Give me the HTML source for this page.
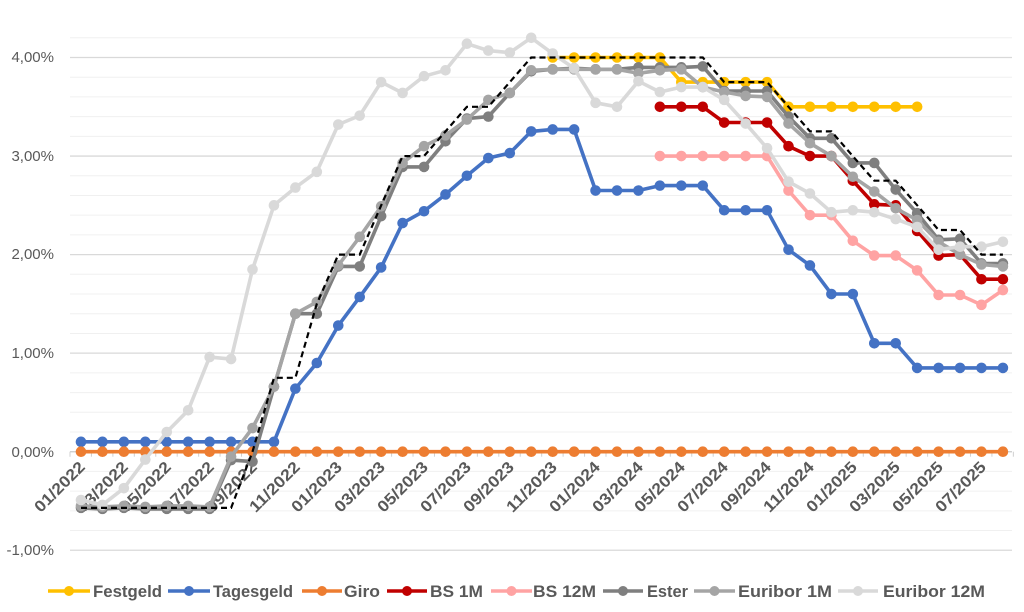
<!DOCTYPE html>
<html><head><meta charset="utf-8"><style>
html,body{margin:0;padding:0;background:#fff;width:1024px;height:612px;overflow:hidden}
svg{display:block}
.yl{font-family:"Liberation Sans",sans-serif;font-size:15px;fill:#595959}
.xl{font-family:"Liberation Sans",sans-serif;font-size:16px;font-weight:bold;fill:#595959}
.lg{font-family:"Liberation Sans",sans-serif;font-size:17px;font-weight:bold;fill:#595959}
</style></head><body>
<svg id="s" width="1024" height="612" xmlns="http://www.w3.org/2000/svg">
<g id="grid"></g>
<g class="yl" text-anchor="end">
<text x="54" y="62">4,00%</text>
<text x="54" y="161">3,00%</text>
<text x="54" y="259">2,00%</text>
<text x="54" y="358">1,00%</text>
<text x="54" y="457">0,00%</text>
<text x="54" y="555">-1,00%</text>
</g>
<g class="xl" text-anchor="end" id="xl">
<text transform="translate(86,468) rotate(-45)" textLength="64" lengthAdjust="spacingAndGlyphs">01/2022</text>
<text transform="translate(129,468) rotate(-45)" textLength="64" lengthAdjust="spacingAndGlyphs">03/2022</text>
<text transform="translate(172,468) rotate(-45)" textLength="64" lengthAdjust="spacingAndGlyphs">05/2022</text>
<text transform="translate(215,468) rotate(-45)" textLength="64" lengthAdjust="spacingAndGlyphs">07/2022</text>
<text transform="translate(258,468) rotate(-45)" textLength="64" lengthAdjust="spacingAndGlyphs">09/2022</text>
<text transform="translate(301,468) rotate(-45)" textLength="64" lengthAdjust="spacingAndGlyphs">11/2022</text>
<text transform="translate(343,468) rotate(-45)" textLength="64" lengthAdjust="spacingAndGlyphs">01/2023</text>
<text transform="translate(386,468) rotate(-45)" textLength="64" lengthAdjust="spacingAndGlyphs">03/2023</text>
<text transform="translate(429,468) rotate(-45)" textLength="64" lengthAdjust="spacingAndGlyphs">05/2023</text>
<text transform="translate(472,468) rotate(-45)" textLength="64" lengthAdjust="spacingAndGlyphs">07/2023</text>
<text transform="translate(515,468) rotate(-45)" textLength="64" lengthAdjust="spacingAndGlyphs">09/2023</text>
<text transform="translate(558,468) rotate(-45)" textLength="64" lengthAdjust="spacingAndGlyphs">11/2023</text>
<text transform="translate(601,468) rotate(-45)" textLength="64" lengthAdjust="spacingAndGlyphs">01/2024</text>
<text transform="translate(644,468) rotate(-45)" textLength="64" lengthAdjust="spacingAndGlyphs">03/2024</text>
<text transform="translate(686,468) rotate(-45)" textLength="64" lengthAdjust="spacingAndGlyphs">05/2024</text>
<text transform="translate(729,468) rotate(-45)" textLength="64" lengthAdjust="spacingAndGlyphs">07/2024</text>
<text transform="translate(772,468) rotate(-45)" textLength="64" lengthAdjust="spacingAndGlyphs">09/2024</text>
<text transform="translate(815,468) rotate(-45)" textLength="64" lengthAdjust="spacingAndGlyphs">11/2024</text>
<text transform="translate(858,468) rotate(-45)" textLength="64" lengthAdjust="spacingAndGlyphs">01/2025</text>
<text transform="translate(901,468) rotate(-45)" textLength="64" lengthAdjust="spacingAndGlyphs">03/2025</text>
<text transform="translate(944,468) rotate(-45)" textLength="64" lengthAdjust="spacingAndGlyphs">05/2025</text>
<text transform="translate(987,468) rotate(-45)" textLength="64" lengthAdjust="spacingAndGlyphs">07/2025</text>
</g>
<g id="series"></g>
<g class="lg">
<text x="93" y="597" textLength="69" lengthAdjust="spacingAndGlyphs">Festgeld</text>
<text x="213" y="597" textLength="80" lengthAdjust="spacingAndGlyphs">Tagesgeld</text>
<text x="344" y="597" textLength="36" lengthAdjust="spacingAndGlyphs">Giro</text>
<text x="430" y="597" textLength="53" lengthAdjust="spacingAndGlyphs">BS 1M</text>
<text x="533" y="597" textLength="63" lengthAdjust="spacingAndGlyphs">BS 12M</text>
<text x="647" y="597" textLength="41" lengthAdjust="spacingAndGlyphs">Ester</text>
<text x="738" y="597" textLength="94" lengthAdjust="spacingAndGlyphs">Euribor 1M</text>
<text x="883" y="597" textLength="102" lengthAdjust="spacingAndGlyphs">Euribor 12M</text>
</g>
<g id="leg"></g>
</svg>
<script>
var NS="http://www.w3.org/2000/svg";
function el(t,a,p){var e=document.createElementNS(NS,t);for(var k in a)e.setAttribute(k,a[k]);p.appendChild(e);return e;}
var g=document.getElementById('grid'),S=document.getElementById('series'),L=document.getElementById('leg');
function Y(v){return 451.7-v*98.55;}
function X(i){return 81+i*21.44;}
for(var k=-5;k<=21;k++){var y=Y(k*0.2);var maj=(k%5===0);
 el('line',{x1:70,x2:1012,y1:y,y2:y,stroke:maj?'#d9d9d9':'#f0f0f0','stroke-width':maj?1.3:1},g);}
el('line',{x1:70,x2:1012,y1:Y(0),y2:Y(0),stroke:'#d0d0d0','stroke-width':1.3},g);
for(var i=0;i<=44;i++){var x=70+i*21.44;el('line',{x1:x,x2:x,y1:Y(0),y2:Y(0)+5,stroke:'#d0d0d0'},g);}
function N(n,v){var a=[];for(var i=0;i<n;i++)a.push(v);return a;}
var data=[
 ['#FFC000',22,[4,4,4,4,4,4,3.75,3.75,3.75,3.75,3.75,3.5,3.5,3.5,3.5,3.5,3.5,3.5]],
 ['#4472C4',0,N(10,0.1).concat([0.64,0.9,1.28,1.57,1.87,2.32,2.44,2.61,2.8,2.98,3.03,3.25,3.27,3.27,2.65,2.65,2.65,2.7,2.7,2.7,2.45,2.45,2.45,2.05,1.89,1.6,1.6,1.1,1.1,0.85,0.85,0.85,0.85,0.85])],
 ['#ED7D31',0,N(44,0)],
 ['#C00000',27,[3.5,3.5,3.5,3.34,3.34,3.34,3.1,3.0,3.0,2.75,2.51,2.5,2.24,1.99,2.0,1.75,1.75]],
 ['#FFA3A3',27,[3,3,3,3,3,3,2.65,2.4,2.4,2.14,1.99,1.99,1.84,1.59,1.59,1.49,1.64]],
 ['#7F7F7F',0,[-0.57,-0.58,-0.57,-0.58,-0.58,-0.58,-0.58,-0.085,-0.1,0.66,1.4,1.4,1.88,1.88,2.39,2.89,2.89,3.15,3.38,3.4,3.64,3.86,3.88,3.89,3.88,3.88,3.9,3.9,3.9,3.91,3.66,3.66,3.66,3.4,3.18,3.18,2.93,2.93,2.66,2.42,2.15,2.16,1.91,1.91]],
 ['#A5A5A5',0,[-0.55,-0.56,-0.55,-0.56,-0.55,-0.55,-0.56,-0.05,0.24,0.66,1.4,1.52,1.89,2.18,2.49,2.93,3.1,3.21,3.37,3.57,3.64,3.87,3.88,3.88,3.88,3.88,3.84,3.87,3.88,3.7,3.65,3.61,3.6,3.33,3.13,3.0,2.79,2.64,2.47,2.35,2.13,2.0,1.9,1.88]],
 ['#D9D9D9',0,[-0.49,-0.54,-0.37,-0.08,0.2,0.42,0.96,0.94,1.85,2.5,2.68,2.84,3.32,3.41,3.75,3.64,3.81,3.87,4.14,4.07,4.05,4.2,4.04,3.89,3.54,3.5,3.76,3.65,3.7,3.7,3.57,3.33,3.08,2.74,2.62,2.43,2.45,2.43,2.36,2.28,2.05,2.08,2.08,2.13]]
];
data.forEach(function(d){var pts=d[2].map(function(v,j){return X(d[1]+j).toFixed(1)+','+Y(v).toFixed(1);});
 el('polyline',{points:pts.join(' '),fill:'none',stroke:d[0],'stroke-width':3.6,'stroke-linejoin':'round'},S);
 d[2].forEach(function(v,j){el('circle',{cx:X(d[1]+j),cy:Y(v),r:5.3,fill:d[0]},S);});});
var ecb=N(8,-0.57).concat([0,0.75,0.75,1.5,2,2,2.5,3,3,3.25,3.5,3.5,3.75]).concat(N(9,4)).concat([3.75,3.75,3.75,3.5,3.25,3.25,3.0,2.75,2.75,2.5,2.25,2.25,2,2]);
el('polyline',{points:ecb.map(function(v,j){return X(j).toFixed(1)+','+Y(v).toFixed(1);}).join(' '),fill:'none',stroke:'#000','stroke-width':2.2,'stroke-dasharray':'6,4'},S);
var lx=[[48,90],[168,210],[302,342],[387,427],[491,532],[603,643],[694,735],[838,878]];
lx.forEach(function(p,i){var c=data[i][0];
 el('line',{x1:p[0],x2:p[1],y1:591,y2:591,stroke:c,'stroke-width':3.6},L);
 el('circle',{cx:(p[0]+p[1])/2,cy:591,r:5,fill:c},L);});
</script>
</body></html>
